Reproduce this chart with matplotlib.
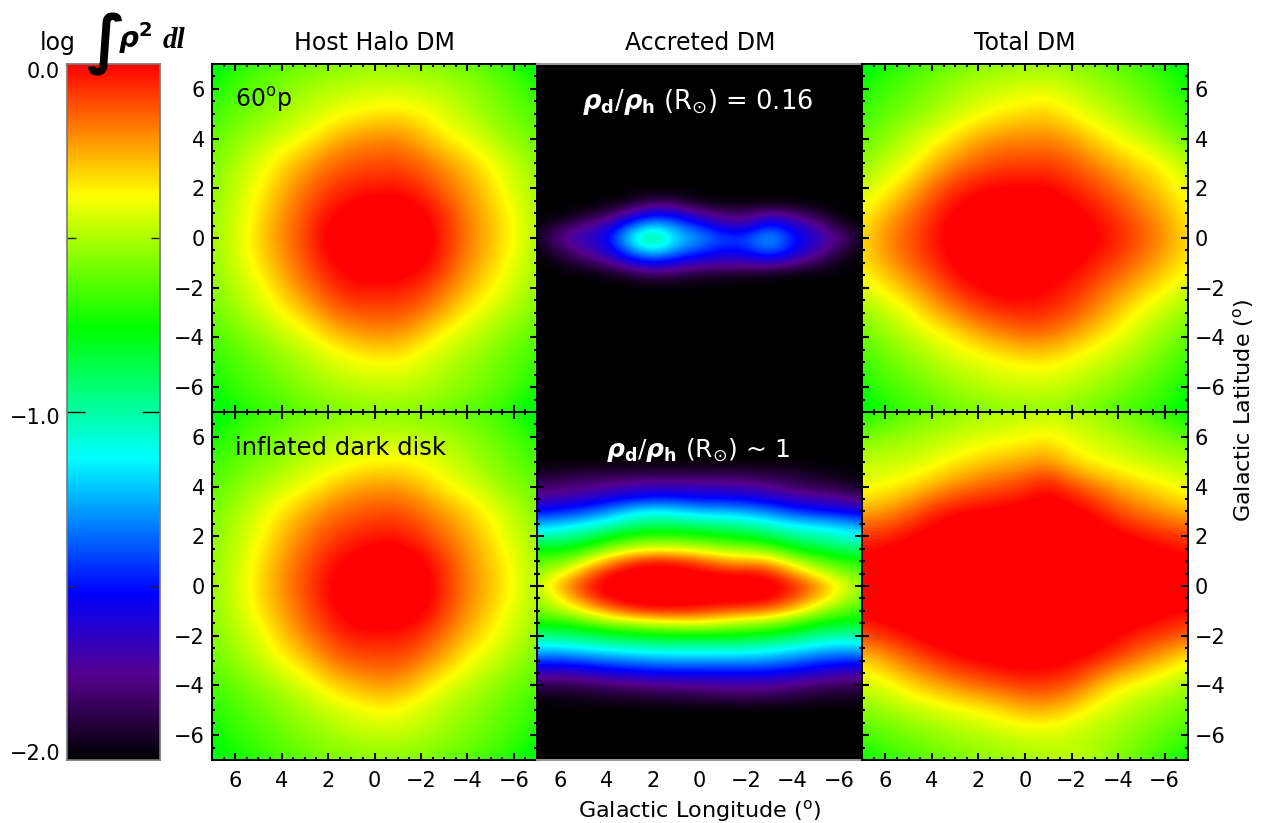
import numpy as np
import matplotlib
matplotlib.use('Agg')
import matplotlib.pyplot as plt
from matplotlib.colors import LinearSegmentedColormap

plt.rcParams['font.family'] = ['DejaVu Sans']
plt.rcParams['mathtext.fontset'] = 'dejavusans'

W, H = 1263, 823

# colour bar stops
cmap_pos = [0.0, 0.12, 0.24, 0.434, 0.62, 0.812, 0.88, 1.0]
cmap_col = ['#000000', '#55008c', '#0000ff', '#00ffff', '#00ff00', '#ffff00', '#ffa500', '#ff0000']

ticks = [6, 4, 2, 0, -2, -4, -6]
tick_labels = ['6', '4', '2', '0', '\u22122', '\u22124', '\u22126']
cbar_labels = ['0.0', '\u22121.0', '\u22122.0']
titles = ['Host Halo DM', 'Accreted DM', 'Total DM']

# log density per panel, columns run l = 7 ... -7, rows b = 7 ... -7
host_top = [
    [-.82, -.72, -.67, -.63, -.60, -.58, -.56, -.55, -.55, -.56, -.58, -.61, -.65, -.70, -.82],
    [-.72, -.66, -.61, -.57, -.52, -.49, -.47, -.45, -.45, -.47, -.49, -.53, -.58, -.64, -.70],
    [-.67, -.61, -.57, -.52, -.47, -.42, -.38, -.36, -.34, -.37, -.43, -.49, -.55, -.60, -.65],
    [-.62, -.56, -.50, -.44, -.38, -.30, -.23, -.20, -.20, -.27, -.35, -.41, -.48, -.55, -.60],
    [-.58, -.50, -.42, -.33, -.25, -.17, -.13, -.12, -.11, -.15, -.22, -.30, -.38, -.47, -.55],
    [-.56, -.47, -.38, -.27, -.17, -.10, -.05, -.03, -.03, -.07, -.15, -.23, -.33, -.43, -.52],
    [-.54, -.45, -.34, -.22, -.12, -.02, .03, .06, .07, .02, -.07, -.19, -.29, -.39, -.50],
    [-.53, -.44, -.32, -.20, -.10, .03, .08, .10, .10, .06, -.05, -.17, -.27, -.375, -.50],
    [-.54, -.45, -.34, -.23, -.12, -.02, .04, .07, .07, .03, -.07, -.20, -.30, -.41, -.51],
    [-.56, -.49, -.41, -.29, -.18, -.09, -.02, -.03, -.03, -.07, -.16, -.26, -.36, -.45, -.53],
    [-.60, -.53, -.46, -.375, -.29, -.18, -.12, -.12, -.11, -.16, -.25, -.37, -.44, -.51, -.58],
    [-.65, -.60, -.54, -.48, -.42, -.33, -.26, -.23, -.23, -.31, -.40, -.46, -.52, -.58, -.63],
    [-.70, -.65, -.60, -.55, -.50, -.45, -.41, -.38, -.38, -.43, -.48, -.53, -.58, -.63, -.68],
    [-.74, -.68, -.64, -.60, -.55, -.51, -.48, -.47, -.47, -.48, -.52, -.56, -.60, -.65, -.72],
    [-.82, -.74, -.70, -.66, -.62, -.59, -.57, -.56, -.56, -.57, -.60, -.63, -.67, -.73, -.82],
]

host_bottom = [
    [-.82, -.73, -.68, -.64, -.61, -.59, -.57, -.56, -.56, -.57, -.59, -.62, -.66, -.71, -.82],
    [-.73, -.67, -.62, -.58, -.53, -.50, -.48, -.47, -.47, -.48, -.50, -.54, -.59, -.65, -.71],
    [-.68, -.62, -.58, -.53, -.48, -.44, -.40, -.38, -.37, -.39, -.44, -.50, -.56, -.61, -.66],
    [-.63, -.57, -.51, -.45, -.39, -.32, -.25, -.22, -.22, -.28, -.36, -.42, -.49, -.56, -.61],
    [-.59, -.51, -.43, -.34, -.26, -.18, -.14, -.12, -.11, -.16, -.23, -.31, -.39, -.48, -.56],
    [-.57, -.48, -.39, -.28, -.18, -.11, -.06, -.03, -.03, -.08, -.16, -.24, -.34, -.44, -.53],
    [-.55, -.46, -.35, -.23, -.13, -.04, .02, .06, .07, .02, -.08, -.20, -.30, -.40, -.51],
    [-.54, -.45, -.33, -.21, -.11, .00, .06, .10, .10, .05, -.06, -.18, -.28, -.38, -.50],
    [-.55, -.46, -.35, -.24, -.13, -.03, .04, .07, .07, .03, -.08, -.21, -.31, -.42, -.52],
    [-.57, -.50, -.42, -.30, -.19, -.10, -.03, -.03, -.03, -.08, -.17, -.27, -.37, -.46, -.54],
    [-.60, -.54, -.47, -.38, -.30, -.19, -.13, -.12, -.11, -.17, -.26, -.38, -.45, -.52, -.59],
    [-.66, -.61, -.55, -.49, -.43, -.34, -.27, -.23, -.23, -.32, -.41, -.47, -.53, -.59, -.64],
    [-.70, -.66, -.61, -.56, -.51, -.46, -.42, -.38, -.38, -.44, -.49, -.54, -.59, -.64, -.69],
    [-.75, -.69, -.65, -.60, -.56, -.52, -.49, -.47, -.47, -.49, -.53, -.57, -.61, -.66, -.73],
    [-.82, -.75, -.70, -.66, -.62, -.59, -.57, -.56, -.56, -.58, -.60, -.64, -.68, -.74, -.82],
]

total_top = [
    [-.82, -.72, -.68, -.64, -.60, -.57, -.55, -.54, -.54, -.56, -.59, -.63, -.67, -.72, -.82],
    [-.72, -.67, -.62, -.57, -.52, -.48, -.45, -.44, -.42, -.47, -.51, -.56, -.61, -.67, -.73],
    [-.68, -.62, -.57, -.52, -.46, -.41, -.36, -.33, -.31, -.38, -.44, -.50, -.55, -.62, -.68],
    [-.62, -.55, -.48, -.41, -.33, -.25, -.21, -.20, -.20, -.24, -.32, -.39, -.46, -.53, -.61],
    [-.55, -.47, -.41, -.29, -.20, -.14, -.10, -.10, -.09, -.13, -.20, -.27, -.33, -.39, -.50],
    [-.46, -.39, -.28, -.16, -.07, -.02, .00, .00, .00, -.05, -.10, -.17, -.25, -.32, -.42],
    [-.38, -.27, -.17, -.07, .01, .06, .08, .10, .08, .03, -.03, -.09, -.17, -.25, -.37],
    [-.33, -.20, -.12, -.04, .05, .10, .10, .10, .10, .07, .02, -.04, -.12, -.20, -.33],
    [-.34, -.24, -.15, -.07, .02, .06, .08, .09, .07, .03, -.04, -.10, -.18, -.26, -.36],
    [-.43, -.35, -.26, -.16, -.06, .00, .03, .03, .00, -.05, -.12, -.20, -.28, -.36, -.45],
    [-.53, -.47, -.39, -.28, -.19, -.11, -.06, -.05, -.06, -.11, -.20, -.30, -.40, -.47, -.55],
    [-.60, -.55, -.48, -.42, -.36, -.28, -.22, -.17, -.18, -.25, -.33, -.40, -.48, -.55, -.61],
    [-.68, -.61, -.56, -.50, -.45, -.42, -.39, -.37, -.36, -.40, -.45, -.49, -.55, -.61, -.69],
    [-.72, -.67, -.62, -.58, -.53, -.49, -.46, -.45, -.45, -.48, -.52, -.57, -.62, -.67, -.73],
    [-.82, -.72, -.68, -.64, -.60, -.58, -.56, -.55, -.55, -.57, -.60, -.64, -.68, -.72, -.82],
]

total_bottom = [
    [-.74, -.68, -.63, -.58, -.55, -.52, -.50, -.49, -.48, -.50, -.53, -.58, -.64, -.70, -.78],
    [-.58, -.55, -.52, -.49, -.46, -.43, -.41, -.39, -.36, -.41, -.45, -.49, -.53, -.58, -.62],
    [-.47, -.46, -.45, -.42, -.36, -.31, -.28, -.25, -.22, -.33, -.39, -.42, -.46, -.48, -.50],
    [-.41, -.38, -.34, -.26, -.20, -.15, -.11, -.07, .00, -.09, -.17, -.25, -.31, -.36, -.42],
    [-.25, -.22, -.14, -.06, .00, .01, .02, .03, .05, .03, -.02, -.11, -.17, -.22, -.28],
    [-.07, -.05, -.01, .04, .07, .10, .10, .10, .10, .10, .07, .02, -.02, -.05, -.08],
    [.02, .04, .10, .10, .10, .10, .10, .10, .10, .10, .10, .10, .08, .04, .01],
    [.10, .10, .10, .10, .10, .10, .10, .10, .10, .10, .10, .10, .10, .10, .08],
    [.01, .05, .10, .10, .10, .10, .10, .10, .10, .10, .10, .08, .05, .02, -.01],
    [-.10, -.06, -.01, .04, .08, .10, .10, .10, .10, .10, .06, .00, -.05, -.08, -.14],
    [-.33, -.25, -.16, -.09, -.03, .00, .03, .04, .03, .00, -.04, -.11, -.20, -.28, -.38],
    [-.45, -.41, -.33, -.26, -.20, -.15, -.11, -.08, -.08, -.12, -.25, -.36, -.41, -.47, -.52],
    [-.56, -.53, -.48, -.45, -.41, -.38, -.33, -.27, -.26, -.33, -.41, -.47, -.52, -.56, -.60],
    [-.66, -.62, -.58, -.55, -.52, -.49, -.47, -.45, -.45, -.47, -.50, -.53, -.57, -.62, -.66],
    [-.76, -.70, -.66, -.62, -.59, -.56, -.54, -.52, -.50, -.47, -.50, -.57, -.62, -.70, -.76],
]

# accreted panel, top row: l = 7 ... -7, b = 2 ... -2 in half degrees
accreted_top = [
    [-2, -2, -2, -2, -2, -2, -2, -2, -2, -2, -2, -2, -2, -2, -2],
    [-2, -2, -2, -2, -1.96, -1.88, -1.9, -1.98, -2, -2, -2, -2, -2, -2, -2],
    [-2, -2, -1.96, -1.88, -1.72, -1.55, -1.58, -1.75, -1.82, -1.85, -1.75, -1.82, -1.9, -2, -2],
    [-2, -1.88, -1.76, -1.66, -1.38, -1.18, -1.32, -1.46, -1.62, -1.68, -1.42, -1.58, -1.72, -1.9, -2],
    [-1.94, -1.74, -1.65, -1.55, -1.15, -.85, -1.2, -1.28, -1.42, -1.42, -1.22, -1.48, -1.62, -1.76, -1.92],
    [-2, -1.86, -1.72, -1.62, -1.32, -1.12, -1.3, -1.42, -1.52, -1.5, -1.32, -1.52, -1.68, -1.86, -2],
    [-2, -1.96, -1.88, -1.78, -1.62, -1.52, -1.6, -1.68, -1.7, -1.7, -1.66, -1.74, -1.86, -1.96, -2],
    [-2, -2, -2, -1.98, -1.92, -1.85, -1.88, -1.92, -1.94, -1.96, -1.98, -2, -2, -2, -2],
    [-2, -2, -2, -2, -2, -2, -2, -2, -2, -2, -2, -2, -2, -2, -2],
]

# accreted panel, bottom row: one list per longitude, b = 5 ... -5 in half degrees
acc_l_p70 = [-2, -1.94, -1.82, -1.72, -1.52, -1.28, -1.03, -.76, -.65, -.55, -.5, -.55, -.6, -.72, -.95, -1.18, -1.42, -1.68, -1.85, -1.98, -2]
acc_l_p56 = [-2, -1.9, -1.8, -1.68, -1.46, -1.2, -.98, -.8, -.58, -.36, -.16, -.28, -.45, -.72, -.92, -1.15, -1.42, -1.68, -1.86, -1.96, -2]
acc_l_p42 = [-2, -1.88, -1.76, -1.6, -1.35, -1.1, -.84, -.6, -.3, -.03, .03, .0, -.25, -.55, -.85, -1.08, -1.35, -1.6, -1.82, -1.94, -2]
acc_l_p28 = [-2, -1.88, -1.7, -1.5, -1.15, -.95, -.7, -.45, -.06, .05, .1, .06, -.06, -.48, -.8, -1.05, -1.3, -1.55, -1.78, -1.92, -2]
acc_l_p14 = [-2, -1.87, -1.68, -1.47, -1.13, -.92, -.68, -.42, -.03, .06, .1, .06, -.02, -.42, -.76, -1.02, -1.27, -1.52, -1.76, -1.9, -2]
acc_l_00 = [-2, -1.88, -1.7, -1.52, -1.24, -.97, -.72, -.48, -.12, .02, .08, .05, -.06, -.375, -.76, -1.02, -1.27, -1.52, -1.74, -1.88, -2]
acc_l_m14 = [-2, -1.87, -1.7, -1.52, -1.24, -.99, -.78, -.55, -.28, -.02, .06, .05, -.12, -.48, -.76, -1.02, -1.27, -1.52, -1.72, -1.86, -2]
acc_l_m28 = [-2, -1.88, -1.76, -1.58, -1.32, -1.07, -.85, -.58, -.25, .0, .06, .05, -.15, -.52, -.8, -1.05, -1.28, -1.52, -1.72, -1.86, -2]
acc_l_m42 = [-2, -1.92, -1.84, -1.68, -1.46, -1.18, -.98, -.8, -.5, -.25, -.04, -.12, -.32, -.66, -.88, -1.13, -1.35, -1.56, -1.78, -1.9, -2]
acc_l_m56 = [-2, -1.96, -1.88, -1.72, -1.52, -1.22, -1.03, -.86, -.68, -.5, -.3, -.36, -.58, -.78, -1, -1.22, -1.44, -1.66, -1.83, -1.94, -2]
acc_l_m70 = [-2, -2, -1.94, -1.8, -1.6, -1.32, -1.13, -.95, -.74, -.62, -.55, -.6, -.68, -.8, -1, -1.2, -1.45, -1.7, -1.85, -1.96, -2]
accreted_bottom = np.column_stack([acc_l_p70, acc_l_p56, acc_l_p42, acc_l_p28, acc_l_p14, acc_l_00,
                                   acc_l_m14, acc_l_m28, acc_l_m42, acc_l_m56, acc_l_m70])


def box(x0, y0, x1, y1):
    # pixel box of the reference to figure coordinates
    return [x0 / W, 1 - y1 / H, (x1 - x0) / W, (y1 - y0) / H]


def fig_text(x, y, s, **kw):
    kw.setdefault('ha', 'center')
    kw.setdefault('va', 'center')
    kw.setdefault('fontsize', 15)
    return fig.text(x / W, 1 - y / H, s, **kw)


def draw_map(ax, grid, half_l, half_b):
    ax.set_facecolor('black')
    ax.imshow(np.array(grid, dtype=float), cmap=rainbow, vmin=-2, vmax=0, aspect='auto',
              interpolation='bicubic', extent=(half_l, -half_l, -half_b, half_b), origin='upper')
    ax.set_xlim(7, -7)
    ax.set_ylim(-7, 7)
    ax.set_xticks(ticks)
    ax.set_yticks(ticks)
    ax.set_xticks(np.arange(-7, 7.5, 0.5), minor=True)
    ax.set_yticks(np.arange(-7, 7.5, 0.5), minor=True)
    ax.tick_params(which='major', direction='in', length=5, width=1.5, top=True, right=True,
                   labelleft=False, labelbottom=False, color='black')
    ax.tick_params(which='minor', direction='in', length=2.5, width=1.5, top=True, right=True, color='black')
    for s in ax.spines.values():
        s.set_linewidth(1.4)
        s.set_color('black')


rainbow = LinearSegmentedColormap.from_list('dm_rainbow', list(zip(cmap_pos, cmap_col)), N=512)

fig = plt.figure(figsize=(W / 100, H / 100), dpi=100)

col_x = [(212, 537), (537, 862), (862, 1188)]
row_y = [(64, 412), (412, 760)]
panels = [
    [(host_top, 7.5, 7.5), (accreted_top, 7.5, 2.25), (total_top, 7.5, 7.5)],
    [(host_bottom, 7.5, 7.5), (accreted_bottom, 7.7, 5.25), (total_bottom, 7.5, 7.5)],
]

for r, (y0, y1) in enumerate(row_y):
    for c, (x0, x1) in enumerate(col_x):
        ax = fig.add_axes(box(x0, y0, x1, y1))
        grid, half_l, half_b = panels[r][c]
        draw_map(ax, grid, half_l, half_b)
        if c == 0:
            ax.set_yticklabels(tick_labels)
            ax.tick_params(axis='y', labelleft=True, pad=5, labelsize=15)
        if c == 2:
            ax.set_yticklabels(tick_labels)
            ax.tick_params(axis='y', labelright=True, pad=5, labelsize=15)
        if r == 1:
            ax.set_xticklabels(tick_labels)
            ax.tick_params(axis='x', labelbottom=True, pad=8, labelsize=15)
        # the black panels show a grey edge on the outside
        if c == 1:
            ax.spines['top' if r == 0 else 'bottom'].set_color('#999999')

# colour bar
cax = fig.add_axes(box(67, 64, 160, 760))
cbar_values = np.linspace(0, -2, 512).reshape(-1, 1)
cax.imshow(cbar_values, cmap=rainbow, vmin=-2, vmax=0, aspect='auto', extent=(0, 1, -2, 0), origin='upper')
cax.set_xticks([])
cax.set_yticks([-1])
cax.set_yticks([-0.5, -1.5], minor=True)
cax.set_yticklabels([])
cax.tick_params(which='major', direction='in', length=13, width=1, left=True, right=True, color='black')
cax.tick_params(which='minor', direction='in', length=6.5, width=1, left=True, right=True, color='#222222')
for s in cax.spines.values():
    s.set_color('#777777')
    s.set_linewidth(1.2)

fig_text(60, 72, cbar_labels[0], ha='right')
fig_text(60, 418, cbar_labels[1], ha='right')
fig_text(60, 754, cbar_labels[2], ha='right')

# headings
fig_text(374, 43, titles[0], fontsize=17)
fig_text(700, 43, titles[1], fontsize=17)
fig_text(1025, 43, titles[2], fontsize=17)
fig_text(58, 43, 'log', fontsize=17)
fig_text(106, 44, '\u222b', fontsize=46, fontweight='bold', zorder=10)
fig_text(135, 38, r'$\boldsymbol{\rho}^{\mathbf{2}}$', fontsize=20)
fig_text(174, 41, 'dl', fontsize=21, family='Liberation Serif', fontweight='bold', style='italic')

fig_text(235, 100, r'60$^{\mathrm{o}}$p', ha='left', fontsize=17)
fig_text(235, 448, 'inflated dark disk', ha='left', fontsize=17.5)
fig_text(698, 102, r'$\boldsymbol{\rho}_{\mathbf{d}}/\boldsymbol{\rho}_{\mathbf{h}}$ (R$_{\odot}$) = 0.16', color='white', fontsize=18.5)
fig_text(698, 450, r'$\boldsymbol{\rho}_{\mathbf{d}}/\boldsymbol{\rho}_{\mathbf{h}}$ (R$_{\odot}$) ~ 1', color='white', fontsize=18)

fig_text(700, 811, r'Galactic Longitude ($^{\mathrm{o}}$)', fontsize=16)
fig_text(1243, 410, r'Galactic Latitude ($^{\mathrm{o}}$)', fontsize=16, rotation=90)

fig.savefig('out.png', dpi=100)
